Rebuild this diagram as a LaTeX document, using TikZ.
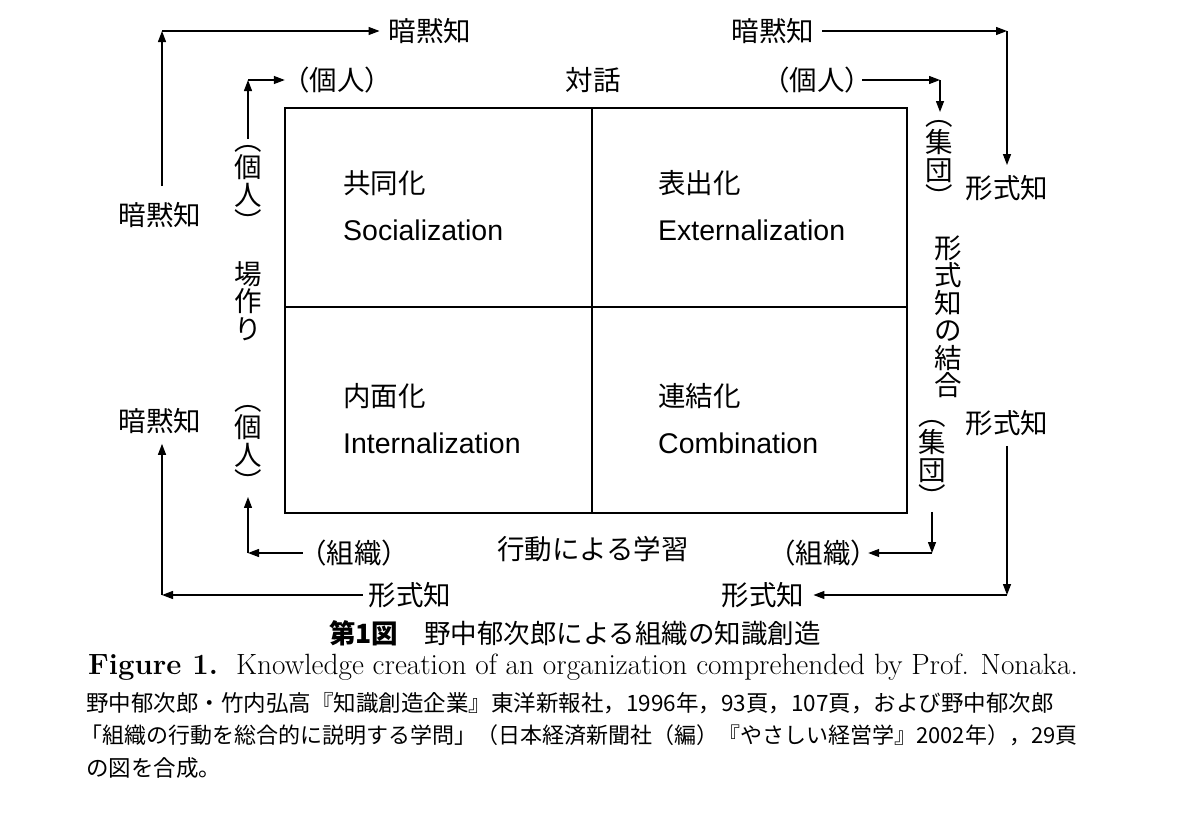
\documentclass[tikz,border=0pt]{standalone}
\usepackage{fontspec}
\newfontfamily\jp{Noto Sans CJK JP}
\newfontfamily\hv{Liberation Sans}
\usetikzlibrary{arrows.meta}
\begin{document}
\begin{tikzpicture}[x=1pt,y=-1pt,
  lbl/.style={inner sep=0pt, font=\jp\fontsize{27.5}{30}\selectfont},
  vlbl/.style={inner sep=0pt, align=center, font=\jp\fontsize{27.5}{27.5}\selectfont},
  en/.style={inner sep=0pt, anchor=west, font=\hv\fontsize{28.5}{30}\selectfont},
  arr/.style={line width=1.3pt, -{Triangle[length=11pt,width=8pt]}},
  boxline/.style={line width=1.8pt},
  divline/.style={line width=1.3pt},
  note/.style={inner sep=0pt, anchor=west, font=\jp\fontsize{22.5}{24}\selectfont}]
\useasboundingbox (0,0) rectangle (1200,819);
\fill[white] (0,0) rectangle (1200,819);

% matrix box
\draw[boxline] (285,108) rectangle (907,513);
\draw[divline] (592,108) -- (592,513);
\draw[divline] (285,307) -- (907,307);

% quadrant labels
\node[en, font=\jp\fontsize{27.5}{30}\selectfont] (q1j) at (343,183) {共同化};
\node[en] (q1e) at (343,230) {Socialization};
\node[en, font=\jp\fontsize{27.5}{30}\selectfont] (q2j) at (658,183) {表出化};
\node[en] (q2e) at (658,230) {Externalization};
\node[en, font=\jp\fontsize{27.5}{30}\selectfont] (q3j) at (343,396) {内面化};
\node[en] (q3e) at (343,443) {Internalization};
\node[en, font=\jp\fontsize{27.5}{30}\selectfont] (q4j) at (658,396) {連結化};
\node[en] (q4e) at (658,443) {Combination};

% outer labels
\node[lbl] (tkL1) at (160,215) {暗黙知};
\node[lbl] (tkT1) at (430,31) {暗黙知};
\node[lbl] (tkT2) at (773,31) {暗黙知};
\node[lbl] (fkR1) at (1007,188) {形式知};
\node[lbl] (fkR2) at (1007,423) {形式知};
\node[lbl] (fkB2) at (763,595) {形式知};
\node[lbl] (fkB1) at (410,595) {形式知};
\node[lbl] (tkL2) at (160,421) {暗黙知};

% inner labels
\node[lbl] (kjT1) at (337,80) {（個人）};
\node[lbl] (kjT2) at (817,80) {（個人）};
\node[lbl] (soB1) at (354,553) {（組織）};
\node[lbl] (soB2) at (823,553) {（組織）};
\node[lbl] (taiwa) at (593,80) {対話};
\node[lbl] (koudou) at (593,549) {行動による学習};

% vertical labels
\node[vlbl] (kjL1) at (248,189) {︵\\個\\人\\︶};
\node[vlbl] (bazu) at (248,301) {場\\作\\り};
\node[vlbl] (kjL2) at (248,449) {︵\\個\\人\\︶};
\node[vlbl] (shuR1) at (939,164) {︵\\集\\団\\︶};
\node[vlbl] (musubi) at (948,317) {形\\式\\知\\の\\結\\合};
\node[vlbl] (shuR2) at (932,464) {︵\\集\\団\\︶};

% corners
\coordinate (c1) at (162,31);
\coordinate (c2) at (248,80);
\coordinate (c3) at (940,80);
\coordinate (c4) at (1007,31);
\coordinate (c5) at (932,553);
\coordinate (c6) at (1007,595);
\coordinate (c7) at (248,553);
\coordinate (c8) at (162,595);

% connectors
\draw[arr, shorten <=16pt] (tkL1.north -| c1) -- (c1);
\draw[arr, shorten >=9pt] (c1) -- (c1 -| tkT1.west);
\draw[arr, shorten <=6pt] (kjL1.north -| c2) -- (c2);
\draw[arr, shorten >=-3pt] (c2) -- (c2 -| kjT1.west);
\draw[arr, shorten <=-10pt] (kjT2.east |- c3) -- (c3);
\draw[arr, shorten >=8pt] (c3) -- (c3 |- shuR1.north);
\draw[arr, shorten <=8pt] (tkT2.east |- c4) -- (c4);
\draw[arr, shorten >=10pt] (c4) -- (c4 |- fkR1.north);
\draw[arr, shorten <=4pt] (shuR2.south -| c5) -- (c5);
\draw[arr, shorten >=-10pt] (c5) -- (c5 -| soB2.east);
\draw[arr, shorten <=10pt] (fkR2.south -| c6) -- (c6);
\draw[arr, shorten >=9pt] (c6) -- (c6 -| fkB2.east);
\draw[arr, shorten <=-4pt] (soB1.west |- c7) -- (c7);
\draw[arr, shorten >=4pt] (c7) -- (c7 |- kjL2.south);
\draw[arr, shorten <=6pt] (fkB1.west |- c8) -- (c8);
\draw[arr, shorten >=10pt] (c8) -- (c8 |- tkL2.south);

% captions
\node[inner sep=0pt, font=\jp\fontsize{26.5}{28}\selectfont] (cap1) at (575,633) {{\bfseries 第1図}\hspace{26pt}野中郁次郎による組織の知識創造};
\node[inner sep=0pt, anchor=west, font=\rmfamily\fontsize{29.3}{30}\selectfont] (cap2) at (88,667) {{\bfseries Figure 1.}\hspace{18pt}Knowledge creation of an organization comprehended by Prof. Nonaka.};
\node[note] (n1) at (86,703) {野中郁次郎・竹内弘高『知識創造企業』東洋新報社，1996年，93頁，107頁，および野中郁次郎};
\node[note, font=\jp\fontsize{22}{24}\selectfont] (n2) at (80,735) {「組織の行動を総合的に説明する学問」（日本経済新聞社（編）『やさしい経営学』2002年），29頁};
\node[note] (n3) at (86,768) {の図を合成。};
\end{tikzpicture}
\end{document}
